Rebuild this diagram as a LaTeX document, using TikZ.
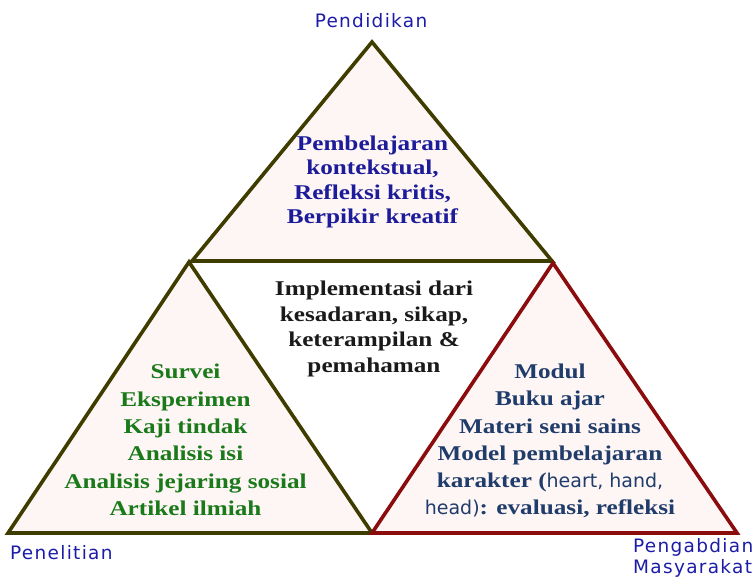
\documentclass[tikz,border=0pt]{standalone}
\usepackage{fontspec}
\setmainfont{Liberation Serif}
\newfontfamily\garfont[FakeStretch=1.2]{Liberation Serif}
\newfontfamily\labfont[LetterSpace=7]{DejaVu Sans}
\newfontfamily\snsfont{DejaVu Sans}
\definecolor{olivedark}{HTML}{3F3C00}
\definecolor{reddark}{HTML}{8A0C0C}
\definecolor{pinkfill}{HTML}{FEF5F5}
\definecolor{labblue}{HTML}{1C1CA8}
\definecolor{topblue}{HTML}{1C1C9A}
\definecolor{leftgreen}{HTML}{1A7A1A}
\definecolor{rightblue}{HTML}{1F3C6A}
\definecolor{midblack}{HTML}{1A1A1A}
\begin{document}
\begin{tikzpicture}[x=1pt,y=-1pt,
  tri/.style={fill=pinkfill,line width=3.6pt,line join=miter},
  labeltext/.style={inner sep=0pt,text=labblue,font=\labfont\fontsize{18.5}{20.5}\selectfont},
  bodytext/.style={inner sep=0pt,align=center,font=\garfont\bfseries\fontsize{21}{26}\selectfont}]
\useasboundingbox (0,0) rectangle (755,577);
% corner points
\coordinate (Ta) at (372,42);
\coordinate (Tr) at (552,261);
\coordinate (Tl) at (192,261);
\coordinate (La) at (189,262);
\coordinate (Lr) at (372,533);
\coordinate (Ll) at (8,533);
\coordinate (Ra) at (553,263);
\coordinate (Rr) at (737,533);
\coordinate (Rl) at (372,533);
% triangles
\filldraw[tri,draw=olivedark] (Ta) -- (Tr) -- (Tl) -- cycle;
\filldraw[tri,draw=olivedark] (La) -- (Lr) -- (Ll) -- cycle;
\filldraw[tri,draw=reddark] (Ra) -- (Rr) -- (Rl) -- cycle;
% corner labels
\node[labeltext] (pend) at (371,20.5) {Pendidikan};
\node[labeltext,anchor=west] (pene) at (10,552.5) {Penelitian};
\node[labeltext,anchor=west,align=left] (peng) at (633,558) {Pengabdian\\Masyarakat};
% texts
\node[bodytext,text=topblue,font=\garfont\bfseries\fontsize{21}{24.5}\selectfont] (toptext) at (372.5,182)
  {Pembelajaran\\kontekstual,\\Refleksi kritis,\\Berpikir kreatif};
\node[bodytext,text=midblack,font=\garfont\bfseries\fontsize{21}{25.7}\selectfont] (midtext) at (374,329)
  {Implementasi dari\\kesadaran, sikap,\\keterampilan \&\\pemahaman};
\node[bodytext,text=leftgreen,font=\garfont\bfseries\fontsize{21}{27.3}\selectfont] (lefttext) at (185.5,440)
  {Survei\\Eksperimen\\Kaji tindak\\Analisis isi\\Analisis jejaring sosial\\Artikel ilmiah};
\node[bodytext,text=rightblue,font=\garfont\bfseries\fontsize{21}{27.3}\selectfont] (righttext) at (550,441)
  {Modul\\Buku ajar\\Materi seni sains\\Model pembelajaran\\karakter ({\snsfont\mdseries\fontsize{19}{27.3}\selectfont heart, hand,}\\{\snsfont\mdseries\fontsize{19}{27.3}\selectfont head)}: evaluasi, refleksi};
\end{tikzpicture}
\end{document}
